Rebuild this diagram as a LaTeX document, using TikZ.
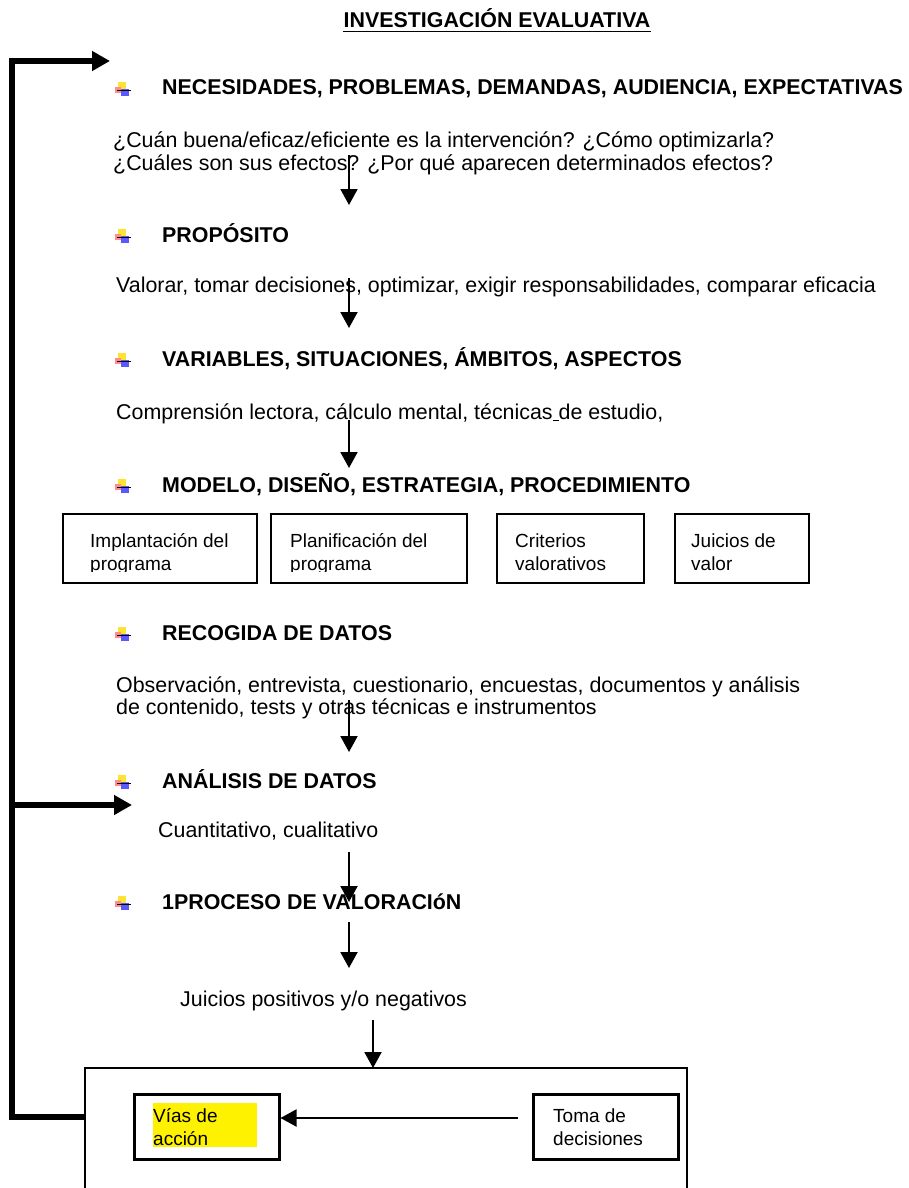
\documentclass[tikz,border=0pt]{standalone}
\usepackage{fontspec}
\setmainfont{Liberation Sans}
\usetikzlibrary{arrows.meta}
\begin{document}
\begin{tikzpicture}[x=1pt,y=-1pt,
  txt/.style={anchor=base west,inner sep=0pt,font=\fontsize{21.4}{26}\selectfont},
  btxt/.style={anchor=base west,inner sep=0pt,font=\fontsize{19}{23}\selectfont},
  head/.style={anchor=base west,inner sep=0pt,font=\fontsize{21.4}{26}\selectfont\bfseries},
  thinarrow/.style={line width=2pt,-{Triangle[width=17pt,length=16pt]}},
  thickarrow/.style={line width=6pt,-{Triangle[width=19pt,length=18pt]}},
  boxline/.style={draw,line width=2pt,inner sep=0pt},
  bulletico/.pic={
    \fill[yellow!80!orange!80] (3,-13) rectangle (11,-6);
    \fill[red!45] (0,-8) rectangle (6,-2);
    \fill[blue!65] (6,-6) rectangle (14,1);
    \draw[line width=1.3pt] (2,-4.5) -- (16,-4.5);
  }]
\useasboundingbox (0,0) rectangle (908,1188);

% title
\node[head,anchor=base] (title) at (497,28) {INVESTIGACIÓN EVALUATIVA};
\draw[line width=1.5pt] ([yshift=-3.5pt]title.base west) -- ([yshift=-3.5pt]title.base east);

% headings with bullets
\pic at (115,95) {bulletico};
\node[head] (h1) at (162,95) {NECESIDADES, PROBLEMAS, DEMANDAS, AUDIENCIA, EXPECTATIVAS};
\pic at (115,242) {bulletico};
\node[head] (h2) at (162,242) {PROPÓSITO};
\pic at (115,366) {bulletico};
\node[head] (h3) at (162,366) {VARIABLES, SITUACIONES, ÁMBITOS, ASPECTOS};
\pic at (115,492) {bulletico};
\node[head] (h4) at (162,492) {MODELO, DISEÑO, ESTRATEGIA, PROCEDIMIENTO};
\pic at (115,640) {bulletico};
\node[head] (h5) at (162,640) {RECOGIDA DE DATOS};
\pic at (115,788) {bulletico};
\node[head] (h6) at (162,788) {ANÁLISIS DE DATOS};
\pic at (115,909) {bulletico};
\node[head] (h7) at (162,909) {1PROCESO DE VALORACIóN};

% body texts
\node[txt] (t1a) at (113,147) {¿Cuán buena/eficaz/eficiente es la intervención? ¿Cómo optimizarla?};
\node[txt] (t1b) at (113,170) {¿Cuáles son sus efectos? ¿Por qué aparecen determinados efectos?};
\node[txt] (t2) at (116,292) {Valorar, tomar decisiones, optimizar, exigir responsabilidades, comparar eficacia};
\node[txt] (t3) at (116,419) {Comprensión lectora, cálculo mental, técnicas\underline{\ }de estudio,};
\node[txt] (t5a) at (116,692) {Observación, entrevista, cuestionario, encuestas, documentos y análisis};
\node[txt] (t5b) at (116,714) {de contenido, tests y otras técnicas e instrumentos};
\node[txt] (t6) at (158,837) {Cuantitativo, cualitativo};
\node[txt] (t7) at (180,1006) {Juicios positivos y/o negativos};

% four boxes
\begin{scope}
  \clip (62,513) rectangle (808,571);
  \node[btxt] (b1a) at (90,547) {Implantación del};
  \node[btxt] (b1b) at (90,570) {programa};
  \node[btxt] (b2a) at (290,547) {Planificación del};
  \node[btxt] (b2b) at (290,570) {programa};
  \node[btxt] (b3a) at (515,547) {Criterios};
  \node[btxt] (b3b) at (515,570) {valorativos};
  \node[btxt] (b4a) at (691,547) {Juicios de};
  \node[btxt] (b4b) at (691,570) {valor};
\end{scope}
\node[boxline,anchor=north west,minimum width=194pt,minimum height=69pt] (bx1) at (62,513) {};
\node[boxline,anchor=north west,minimum width=196pt,minimum height=69pt] (bx2) at (270,513) {};
\node[boxline,anchor=north west,minimum width=147pt,minimum height=69pt] (bx3) at (496,513) {};
\node[boxline,anchor=north west,minimum width=134pt,minimum height=69pt] (bx4) at (674,513) {};

% vertical arrows
\coordinate (a1s) at (349,155); \coordinate (a1e) at (349,205);
\coordinate (a2s) at (349,278); \coordinate (a2e) at (349,328);
\coordinate (a3s) at (349,420); \coordinate (a3e) at (349,468);
\coordinate (a4s) at (349,700); \coordinate (a4e) at (349,752);
\coordinate (a5s) at (349,852); \coordinate (a5e) at (349,902);
\coordinate (a6s) at (349,922); \coordinate (a6e) at (349,968);
\coordinate (a7s) at (373,1020); \coordinate (a7e) at (373,1068);
\draw[thinarrow] (a1s) -- (a1e);
\draw[thinarrow] (a2s) -- (a2e);
\draw[thinarrow] (a3s) -- (a3e);
\draw[thinarrow] (a4s) -- (a4e);
\draw[thinarrow] (a5s) -- (a5e);
\draw[thinarrow] (a6s) -- (a6e);
\draw[thinarrow] (a7s) -- (a7e);

% big bottom box (open at bottom)
\draw[line width=2pt] (85,1195) -- (85,1068) -- (687,1068) -- (687,1195);
\coordinate (bigL) at (85,1117);

% inner boxes
\fill[yellow] (153,1103) rectangle (257,1147);
\node[btxt] (v1) at (153,1122) {Vías de};
\node[btxt] (v2) at (153,1145) {acción};
\node[boxline,line width=2.5pt,anchor=north west,minimum width=145pt,minimum height=65pt] (vias) at (133,1093) {};
\node[btxt] (d1) at (553,1122) {Toma de};
\node[btxt] (d2) at (553,1145) {decisiones};
\node[boxline,line width=2.5pt,anchor=north west,minimum width=145pt,minimum height=65pt] (toma) at (532,1093) {};
\draw[line width=1.5pt] ([xshift=-1.5pt]toma.north east) -- ([xshift=-1.5pt]toma.south east);
\coordinate (tomaL) at (518,1118);
\draw[thinarrow] (tomaL) -- (vias.east |- tomaL);

% feedback thick lines
\coordinate (cB) at (12,1117);
\coordinate (cT) at (12,61);
\coordinate (topTip) at (110,61);
\coordinate (cM) at (12,805);
\coordinate (midTip) at (132,805);
\draw[thickarrow,line join=miter] (bigL) -- (cB) -- (cT) -- (topTip);
\draw[thickarrow] (cM) -- (midTip);
\end{tikzpicture}
\end{document}
